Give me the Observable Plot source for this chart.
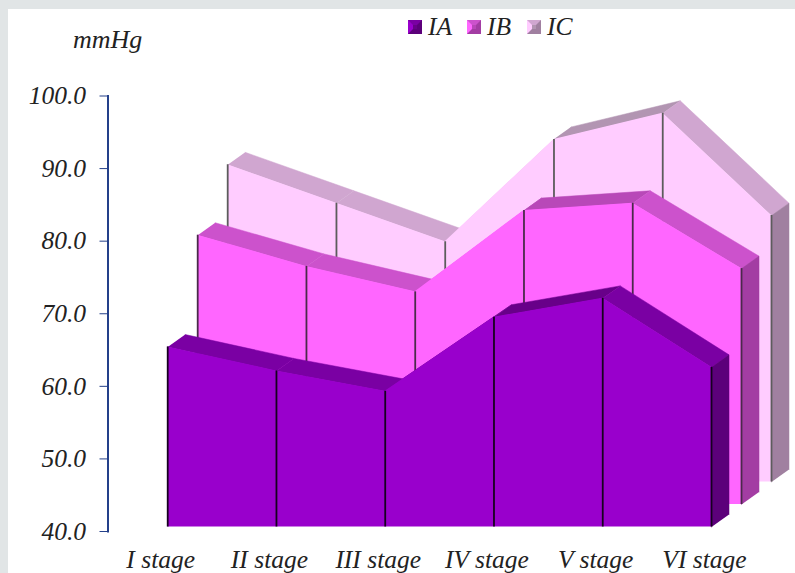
<!DOCTYPE html>
<html>
<head>
<meta charset="utf-8">
<script src="https://cdn.jsdelivr.net/npm/d3@7"></script>
<script src="https://cdn.jsdelivr.net/npm/@observablehq/plot@0.6"></script>
<style>
html,body{margin:0;padding:0;overflow:hidden}
body{width:795px;height:573px;background:
  linear-gradient(#e1e5e6,#e1e5e6) 0 0/100% 9px no-repeat,
  linear-gradient(#e1e5e6,#e1e5e6) 0 0/8px 100% no-repeat,#fff;
  font-family:"Liberation Serif",serif;font-style:italic;color:#222}
#head{position:relative;height:40px}
#unit{position:absolute;left:73px;top:26px;font-size:26px;line-height:28px;z-index:2}
#legend{position:absolute;top:12px;left:0;font-size:25.5px;line-height:30px}
#legend .it{position:absolute;top:0;white-space:nowrap}
#legend i{position:absolute;top:8px;left:-20px;width:4px;height:4px;border-style:solid;border-width:5px}
svg{display:block}
</style>
</head>
<body>
<div id="head"><div id="unit">mmHg</div><div id="legend"></div></div>
<div id="chart"></div>
<script>
const stages = ["I stage","II stage","III stage","IV stage","V stage","VI stage"];
const IA = [64.8,61.5,58.7,68.9,71.5,62.0];
const IB = [77.1,72.8,69.3,80.5,81.5,72.5];
const IC = [83.7,78.4,73.1,87.2,90.8,76.7];
const yTicks = [40,50,60,70,80,90,100];
const names = ["IA","IB","IC"];
const fronts = ["#9900cc","#ff66ff","#ffccff"];
const topsFalling = ["#7a00a3","#cc52cc","#d0a6d0"];
const topsRising = ["#680089","#b848b8","#b295b2"];
const sides = ["#5c007a","#a33da3","#a080a0"];
const lines = ["#16001f","#4a2a4a","#5c5c5c"];
const legendX = [428,487,547];
const seriesShift = [[0,-4.5],[30,-27],[60,-49.5]];
const depthX = 0.161, depthY = 1.72, base = 40;

const legend = document.getElementById("legend");
names.forEach((n,k)=>{
  const d = document.createElement("div"); d.className = "it";
  d.style.left = legendX[k]+"px"; d.textContent = n;
  const s = document.createElement("i");
  s.style.borderColor = `${topsFalling[k]} ${sides[k]} ${sides[k]} ${fronts[k]}`;
  s.style.background = topsRising[k];
  d.appendChild(s); legend.appendChild(d);
});

function seriesMarks(vals,k){
  const pts = vals.map((v,i)=>({i,v}));
  const off = {dx:seriesShift[k][0],dy:seriesShift[k][1]};
  const faces = [];
  vals.slice(1).forEach((v,i)=>{
    const a = vals[i], c = v>a ? topsRising[k] : topsFalling[k], z = "t"+i;
    [[i,a],[i+1,v],[i+1+depthX,v+depthY],[i+depthX,a+depthY]]
      .forEach(([x,y])=>faces.push({x,y,z,c}));
  });
  const last = vals.length-1, lv = vals[last];
  [[last,base],[last,lv],[last+depthX,lv+depthY],[last+depthX,base+depthY]]
    .forEach(([x,y])=>faces.push({x,y,z:"side",c:sides[k]}));
  return [
    Plot.line(faces,{x:"x",y:"y",z:"z",fill:"c",stroke:"c",strokeWidth:0.5,...off}),
    Plot.areaY(pts,{x:"i",y1:base,y2:"v",fill:fronts[k],...off}),
    Plot.ruleX(pts,{x:"i",y1:base,y2:"v",stroke:lines[k],strokeWidth:1.8,...off})
  ];
}

const chart = Plot.plot({
  width:795,height:533,
  marginLeft:107.5,marginRight:0,marginTop:55.5,marginBottom:42,
  style:{background:"transparent",fontFamily:"'Liberation Serif',serif",fontStyle:"italic",fontSize:"25px",color:"#222"},
  x:{domain:[0,5],range:[167.2,711],axis:null},
  y:{domain:[40,100],ticks:yTicks,axis:null},
  color:{type:"identity"},
  marks:[
    seriesMarks(IC,2),
    seriesMarks(IB,1),
    seriesMarks(IA,0),
    Plot.frame({anchor:"left",stroke:"#24408a",strokeWidth:2}),
    Plot.axisY({ticks:yTicks,tickFormat:d3.format(".1f"),tickSize:8,tickPadding:14,
      stroke:"#24408a",strokeOpacity:1,fill:"#222",label:null,fontSize:25.5}),
    Plot.axisX({ticks:d3.range(stages.length),tickFormat:i=>stages[i],tickSize:0,tickPadding:18,
      dx:-7,fill:"#222",label:null,fontSize:25.5})
  ]
});
document.getElementById("chart").appendChild(chart);
</script>
</body>
</html>
